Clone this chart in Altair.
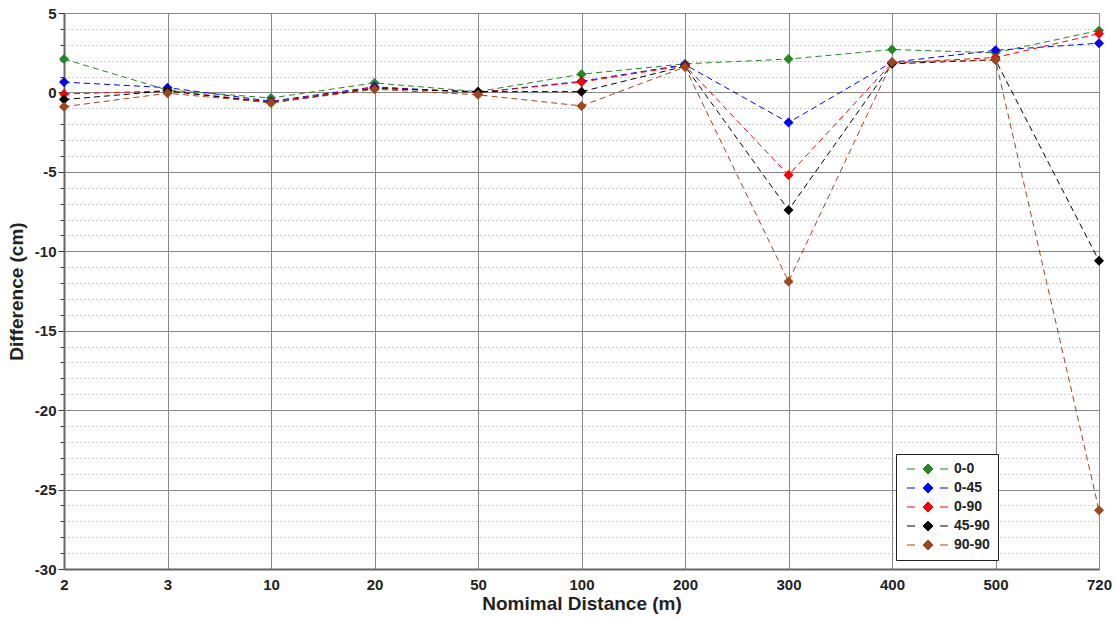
import altair as alt
import pandas as pd

cats = ["2", "3", "10", "20", "50", "100", "200", "300", "400", "500", "720"]
series_names = ["0-0", "0-45", "0-90", "45-90", "90-90"]
s_0_0 = [2.1, 0.15, -0.35, 0.6, 0.05, 1.15, 1.8, 2.1, 2.7, 2.5, 3.9]
s_0_45 = [0.65, 0.3, -0.55, 0.35, 0.0, 0.7, 1.75, -1.9, 1.9, 2.65, 3.1]
s_0_90 = [-0.1, 0.1, -0.6, 0.3, 0.0, 0.65, 1.7, -5.2, 1.85, 2.2, 3.7]
s_45_90 = [-0.45, 0.1, -0.65, 0.25, 0.05, 0.05, 1.65, -7.4, 1.8, 2.05, -10.6]
s_90_90 = [-0.9, -0.05, -0.65, 0.2, -0.15, -0.85, 1.6, -11.9, 1.9, 2.05, -26.3]
colors = ["#1f8a1f", "#0000ff", "#ff0000", "#000000", "#a0461a"]

rows = []
for name, vals in zip(series_names, [s_0_0, s_0_45, s_0_90, s_45_90, s_90_90]):
    for c, v in zip(cats, vals):
        rows.append({"dist": c, "diff": v, "series": name})
df = pd.DataFrame(rows)

font = "Liberation Sans"
cscale = alt.Scale(domain=series_names, range=colors)

x = alt.X("dist:O", sort=cats, scale=alt.Scale(type="point", padding=0),
          axis=alt.Axis(title="Nomimal Distance (m)", labelAngle=0, labelFont=font,
                        labelFontWeight="bold", labelFontSize=15, labelColor="#222",
                        labelPadding=8, titleFont=font, titleFontWeight="bold",
                        titleFontSize=19, titleColor="#222", titlePadding=2,
                        grid=True, gridColor="#888", gridWidth=1, domainColor="#666",
                        domainWidth=2, tickColor="#333", tickSize=0))
y = alt.Y("diff:Q", scale=alt.Scale(domain=[-30, 5], nice=False, zero=False),
          axis=alt.Axis(title="Difference (cm)", values=list(range(-30, 6)),
                        labelExpr="datum.value % 5 === 0 ? '' + datum.value : ''",
                        labelFont=font, labelFontWeight="bold", labelFontSize=15,
                        labelColor="#222", titleFont=font, titleFontWeight="bold",
                        titleFontSize=19, titleColor="#222", titlePadding=8,
                        grid=True,
                        gridColor={"condition": {"test": "datum.value % 5 === 0", "value": "#888"}, "value": "#999"},
                        gridDash={"condition": {"test": "datum.value % 5 === 0", "value": []}, "value": [1, 3]},
                        gridWidth=1, domainColor="#666", domainWidth=2,
                        tickColor="#333",
                        tickSize={"condition": {"test": "datum.value % 5 === 0", "value": 6}, "value": 4}))

legend = alt.Legend(title=None, orient="none", legendX=832, legendY=441,
                    fillColor="white", strokeColor="#222", padding=8,
                    labelFont=font, labelFontWeight="bold", labelFontSize=14,
                    labelColor="#222",
                    symbolType="M-4.2,0H-2.6M2.4,0H4.0M0,-1L1,0L0,1L-1,0Z",
                    symbolSize=100, symbolStrokeWidth=1, symbolOffset=17,
                    labelOffset=19, rowPadding=5, offset=0)

color = alt.Color("series:N", scale=cscale, legend=legend)

base = alt.Chart(df)
lines = base.mark_line(strokeDash=[6, 4], strokeWidth=1).encode(
    x=x, y=y, color=color, detail="series:N")
points = base.mark_point(shape="diamond", filled=True, size=100, opacity=1).encode(
    x=x, y=y, color=color)

chart = alt.layer(lines, points).properties(
    width=1035, height=556,
    autosize=alt.AutoSizeParams(type="none"),
    padding={"left": 64, "top": 13, "right": 18, "bottom": 49},
).configure_view(stroke="#666", strokeWidth=1.5).configure(background="white")

chart.save("out.html", embed_options={"renderer": "svg", "actions": False})
